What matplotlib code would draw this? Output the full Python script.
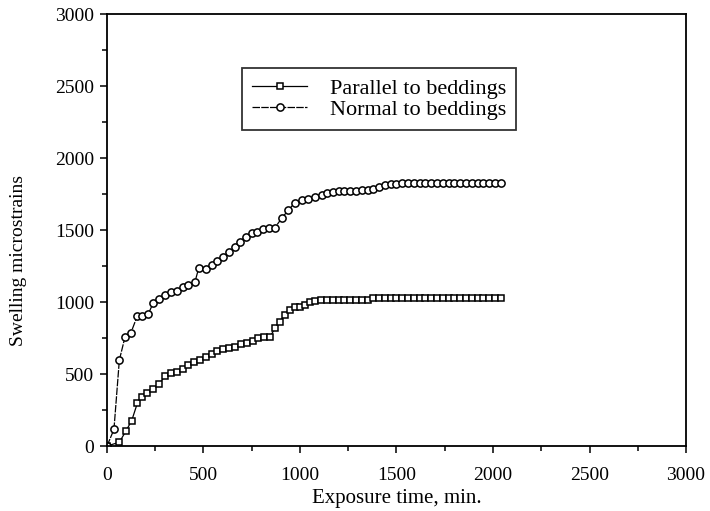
# Hinchamiento por exposición: paralelo vs. normal a los planos de estratificación
import matplotlib
matplotlib.use("Agg")
import matplotlib.pyplot as plt
from matplotlib.ticker import MultipleLocator

plt.rcParams['font.family'] = ['Liberation Serif', 'DejaVu Serif']

# Datos
t_paralelo = [0, 64, 98, 128, 157, 180, 209, 240, 271, 300, 330, 361, 392, 421, 452,
              482, 513, 542, 571, 603, 634, 663, 693, 724, 755, 784, 813, 845, 870,
              896, 922, 948, 974, 1000, 1026, 1052, 1080, 1110, 1140, 1170, 1200,
              1230, 1260, 1290, 1320, 1350, 1380, 1410, 1440, 1470, 1500, 1530,
              1560, 1590, 1620, 1650, 1680, 1710, 1740, 1770, 1800, 1830, 1860,
              1890, 1920, 1950, 1980, 2010, 2040]
s_paralelo = [0, 26, 104, 176, 296, 343, 366, 394, 431, 486, 509, 516, 532, 563, 586,
              597, 620, 639, 660, 671, 678, 690, 706, 713, 731, 748, 755, 759, 817,
              863, 910, 944, 968, 968, 979, 1002, 1010, 1012, 1014, 1014, 1014,
              1014, 1014, 1014, 1014, 1014, 1026, 1029, 1030, 1030, 1030, 1030,
              1030, 1030, 1030, 1030, 1030, 1030, 1030, 1030, 1030, 1030, 1030,
              1030, 1030, 1030, 1030, 1030, 1030]

t_normal = [0, 36, 64, 93, 123, 157, 183, 214, 240, 271, 300, 332, 361, 392, 421,
            456, 475, 513, 542, 571, 603, 632, 663, 689, 718, 750, 779, 810, 839,
            870, 905, 940, 974, 1009, 1043, 1078, 1112, 1140, 1170, 1200, 1230,
            1260, 1290, 1320, 1350, 1380, 1410, 1440, 1470, 1500, 1530, 1560,
            1590, 1620, 1650, 1680, 1710, 1740, 1770, 1800, 1830, 1860, 1890,
            1920, 1950, 1980, 2010, 2040]
s_normal = [0, 115, 597, 755, 783, 903, 903, 917, 995, 1021, 1049, 1072, 1076, 1102,
            1118, 1141, 1234, 1227, 1257, 1285, 1315, 1350, 1384, 1419, 1454, 1477,
            1488, 1505, 1512, 1516, 1581, 1639, 1690, 1708, 1715, 1731, 1743, 1755,
            1762, 1768, 1770, 1772, 1774, 1776, 1778, 1786, 1800, 1812, 1818, 1821,
            1823, 1825, 1826, 1828, 1829, 1829, 1829, 1829, 1829, 1829, 1829, 1829,
            1829, 1829, 1829, 1829, 1829, 1829]

etiquetas = ['Parallel to beddings', 'Normal to beddings']

fig = plt.figure(figsize=(7.1, 5.11), dpi=100)
ax = fig.add_axes([0.1507, 0.1272, 0.8155, 0.8454])

ax.plot(t_paralelo, s_paralelo, color='black', lw=0.9, ls='-',
        marker='s', ms=4.6, mfc='white', mec='black', mew=1.1, label=etiquetas[0])
ax.plot(t_normal, s_normal, color='black', lw=0.9, ls=(0, (6, 1)),
        marker='o', ms=5.2, mfc='white', mec='black', mew=1.1, label=etiquetas[1])

ax.set_xlim(0, 3000)
ax.set_ylim(0, 3000)
ax.xaxis.set_major_locator(MultipleLocator(500))
ax.yaxis.set_major_locator(MultipleLocator(500))
ax.xaxis.set_minor_locator(MultipleLocator(250))
ax.yaxis.set_minor_locator(MultipleLocator(250))
ax.tick_params(which='major', direction='out', length=5, width=1.1, labelsize=14)
ax.tick_params(which='minor', direction='out', length=3.5, width=1.1)
ax.tick_params(axis='x', which='major', pad=10)
ax.tick_params(axis='y', which='major', pad=4)
for sp in ax.spines.values():
    sp.set_linewidth(1.3)

ax.set_xlabel('Exposure time, min.', fontsize=15, labelpad=4)
ax.set_ylabel('Swelling microstrains', fontsize=14)
ax.yaxis.set_label_coords(-0.138, 0.43)

leg = ax.legend(loc='upper left', bbox_to_anchor=(0.233, 0.875), borderaxespad=0,
                fontsize=16, frameon=True, fancybox=False, edgecolor='black',
                handlelength=2.5, handletextpad=1.0, borderpad=0.45, labelspacing=0.05)
leg.get_frame().set_linewidth(1.3)

fig.savefig('out.png', dpi=100)
